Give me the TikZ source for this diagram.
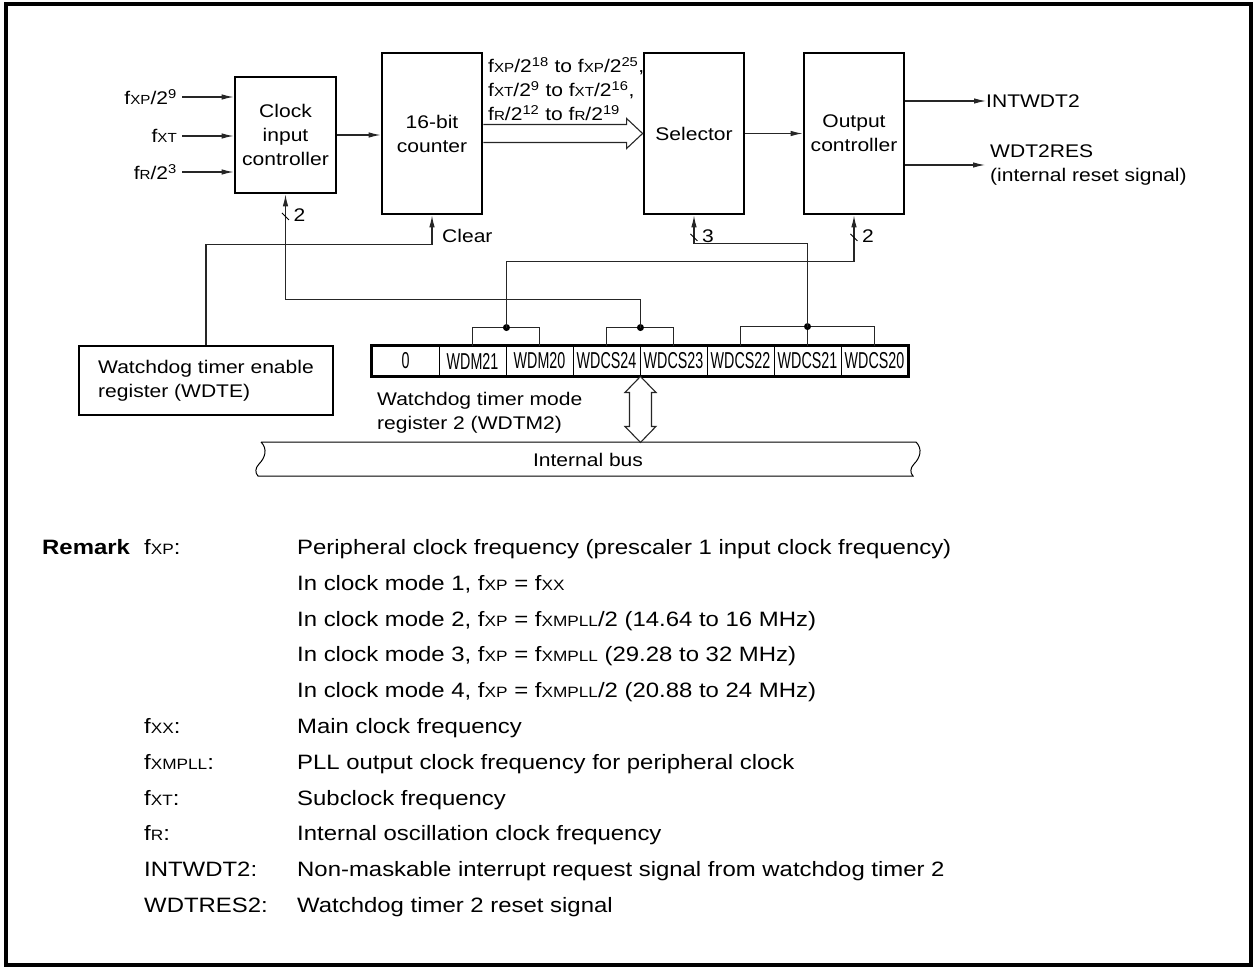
\documentclass[tikz,border=0pt]{standalone}
\usepackage{fontspec}
\setmainfont{Liberation Sans}[FakeStretch=1.15]
\usepackage{graphicx}
\usetikzlibrary{arrows.meta,calc}
\newcommand{\dfont}{\fontsize{18.3}{24}\selectfont}
\newcommand{\rfont}{\fontsize{20.8}{26}\selectfont}
\newcommand{\cfont}{\fontsize{23}{23}\selectfont}
\newcommand{\fq}[1]{f\scalebox{0.72}{#1}}
\newcommand{\squeeze}[1]{\scalebox{0.54}[1]{#1}}
\tikzset{
  blk/.style={rectangle, draw=black, line width=2.8pt, align=center,
              font=\dfont, inner sep=0pt},
  cell/.style={rectangle, draw=black, line width=0.9pt, minimum width=67pt,
               minimum height=30pt, inner sep=0pt, font=\cfont},
  lbl/.style={font=\dfont, inner sep=0pt},
  rtxt/.style={font=\rfont, inner sep=0pt, anchor=base west},
  conn/.style={line width=1.1pt, draw=black!85},
  arr/.style={conn, -{Latex[length=12pt,width=5.5pt]}},
  tick/.style={line width=0.9pt},
}

\begin{document}
\begin{tikzpicture}[x=1pt, y=-1pt]
  \useasboundingbox (0,0) rectangle (1256,968);
  \draw[line width=3.5pt] (6,4) rectangle (1251,965);

  % blocks
  \node[blk, minimum width=101pt, minimum height=116pt] (clk)  at (285.5,135) {Clock\\input\\controller};
  \node[blk, minimum width=100pt, minimum height=161pt] (cnt)  at (432,133.5) {16-bit\\counter};
  \node[blk, minimum width=100pt, minimum height=161pt] (sel)  at (694,133.5) {Selector};
  \node[blk, minimum width=100pt, minimum height=161pt] (outc) at (854,133.5) {Output\\controller};
  \node[blk, minimum width=254pt, minimum height=69pt, align=left] (wdte) at (206,380.5) {Watchdog timer enable\\register (WDTE)};

  % clock inputs
  \foreach \y/\src [count=\i] in {97/{\fq{XP}/2\textsuperscript{9}}, 136/{\fq{XT}}, 172/{\fq{R}/2\textsuperscript{3}}} {
    \node[lbl, anchor=east, inner xsep=5pt] (in\i) at (182,\y) {\src};
    \draw[arr] (in\i) -- (clk.west |- in\i);
  }
  \draw[arr] (clk.east) -- (clk.east -| cnt.west);

  % counter taps to selector
  \draw[conn] ($(cnt.east)+(0,-9)$) -- ($(sel.west)+(-16,-9)$) -- ($(sel.west)+(-16,-15)$) -- (sel.west)
    -- ($(sel.west)+(-16,15)$) -- ($(sel.west)+(-16,9)$) -- ($(cnt.east)+(0,9)$);
  \node[lbl, anchor=west, align=left] (taps) at (488,89)
    {\fq{XP}/2\textsuperscript{18} to \fq{XP}/2\textsuperscript{25},\\
     \fq{XT}/2\textsuperscript{9} to \fq{XT}/2\textsuperscript{16},\\
     \fq{R}/2\textsuperscript{12} to \fq{R}/2\textsuperscript{19}};
  \draw[arr] (sel.east) -- (sel.east -| outc.west);

  % outputs
  \node[lbl, anchor=west] (intw) at (986,101) {INTWDT2};
  \draw[arr] (outc.east |- intw) -- (intw.west);
  \node[lbl, anchor=west, align=left] (wres) at (990,165) {WDT2RES\\(internal reset signal)};
  \draw[arr, shorten >=5pt] (outc.east |- wres) -- (wres.west);

  % mode register
  \foreach \reg [count=\i from 0] in {0,WDM21,WDM20,WDCS24,WDCS23,WDCS22,WDCS21,WDCS20}
    \node[cell] (r\i) at (405.5+67*\i,361) {\squeeze{\reg}};
  \draw[line width=2.8pt] (r0.north west) rectangle (r7.south east);
  \node[lbl, anchor=west, align=left] (wdtm) at (377,413) {Watchdog timer mode\\register 2 (WDTM2)};

  % bit groups
  \coordinate (jm) at ($(r1.north east)+(0,-18)$);
  \coordinate (js) at ($(r3.north east)+(0,-18)$);
  \coordinate (jc) at ($(r6.north)+(0,-19)$);
  \draw[conn] (r1.north) |- (jm) -| (r2.north);
  \draw[conn] (r3.north) |- (js) -| (r4.north);
  \draw[conn] (r5.north) |- (jc) -| (r7.north);
  \draw[conn] (r6.north) -- (jc);
  \foreach \j in {jm,js,jc} \fill (\j) circle (3.5pt);

  % control lines
  \draw[arr] (jm) -- ++(0,-66) -| (outc.south);
  \draw[arr] (js) -- ++(0,-28) -| (clk.south);
  \draw[arr] (jc) -- ++(0,-83) -| (sel.south);
  \draw[arr] (wdte.north) -- ++(0,-100) -| (cnt.south);
  \foreach \n/\w in {clk/2, sel/3, outc/2} {
    \draw[tick] ($(\n.south)+(-3.5,18.5)$) -- ++(7,7);
    \node[lbl, anchor=west] (w\n) at ($(\n.south)+(8,21)$) {\w};
  }
  \node[lbl, anchor=west] (clr) at ($(cnt.south)+(10,21)$) {Clear};

  % internal bus
  \draw[line width=1pt] (261,442) -- (916,442) .. controls (923,449) and (920,458) .. (914,464)
    .. controls (910,468) and (910,473) .. (913,476) -- (258,476)
    .. controls (255,473) and (255,468) .. (259,464) .. controls (265,458) and (268,449) .. (261,442);
  \node[lbl] (ibus) at (588,460) {Internal bus};
  \coordinate (busin) at ($(r3.south east)+(0,66)$);
  \draw[conn, fill=white] (r3.south east) -- ++(15.5,16) -- ++(-4.5,0) -- ($(busin)+(11,-16)$) -- ++(4.5,0)
    -- (busin) -- ++(-15.5,-16) -- ++(4.5,0) -- ($(r3.south east)+(-11,16)$) -- ++(-4.5,0) -- cycle;

  % remark
  \node[rtxt, font=\rfont\bfseries] (rmk) at (42,554) {Remark};
  \node[rtxt] (k0)  at (144,554) {\fq{XP}:};
  \node[rtxt] (d0)  at (297,554) {Peripheral clock frequency (prescaler 1 input clock frequency)};
  \node[rtxt] (d1)  at (297,590) {In clock mode 1, \fq{XP} = \fq{XX}};
  \node[rtxt] (d2)  at (297,626) {In clock mode 2, \fq{XP} = \fq{XMPLL}/2 (14.64 to 16 MHz)};
  \node[rtxt] (d3)  at (297,661) {In clock mode 3, \fq{XP} = \fq{XMPLL} (29.28 to 32 MHz)};
  \node[rtxt] (d4)  at (297,697) {In clock mode 4, \fq{XP} = \fq{XMPLL}/2 (20.88 to 24 MHz)};
  \node[rtxt] (k5)  at (144,733) {\fq{XX}:};
  \node[rtxt] (d5)  at (297,733) {Main clock frequency};
  \node[rtxt] (k6)  at (144,769) {\fq{XMPLL}:};
  \node[rtxt] (d6)  at (297,769) {PLL output clock frequency for peripheral clock};
  \node[rtxt] (k7)  at (144,805) {\fq{XT}:};
  \node[rtxt] (d7)  at (297,805) {Subclock frequency};
  \node[rtxt] (k8)  at (144,840) {\fq{R}:};
  \node[rtxt] (d8)  at (297,840) {Internal oscillation clock frequency};
  \node[rtxt] (k9)  at (144,876) {INTWDT2:};
  \node[rtxt] (d9)  at (297,876) {Non-maskable interrupt request signal from watchdog timer 2};
  \node[rtxt] (k10) at (144,912) {WDTRES2:};
  \node[rtxt] (d10) at (297,912) {Watchdog timer 2 reset signal};
\end{tikzpicture}
\end{document}
